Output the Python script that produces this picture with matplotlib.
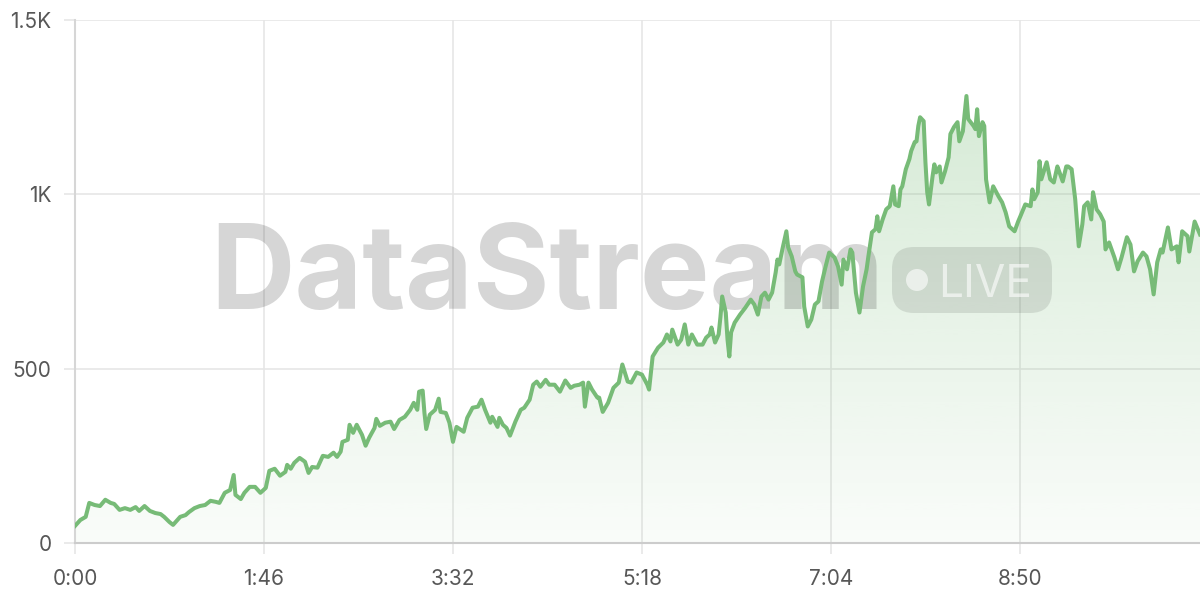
import matplotlib
matplotlib.use("Agg")
import matplotlib.pyplot as plt
from matplotlib.patches import FancyBboxPatch, Circle
from matplotlib.transforms import IdentityTransform
from matplotlib.ticker import FuncFormatter, FixedLocator
import numpy as np

plt.rcParams.update({
    "font.family": ["Inter", "DejaVu Sans"],
    "font.size": 15,
})

# elapsed seconds / stream value
seconds = [
    0, 3, 6, 8, 11, 14, 17, 20, 22, 25, 28, 31, 34, 36, 39, 42, 45, 48, 50, 53,
    55, 59, 62, 64, 67, 70, 73, 76, 79, 81, 84, 87, 89, 90, 93, 95, 98, 101, 104, 107,
    109, 112, 115, 118, 119, 121, 123, 126, 129, 131, 133, 136, 139, 142, 145, 147, 149, 150, 153, 154,
    156, 158, 161, 163, 165, 168, 169, 171, 174, 177, 179, 182, 185, 188, 190, 192, 193, 195, 196, 197,
    199, 202, 204, 205, 208, 210, 212,
    214, 218, 220, 223, 226, 228, 230, 233, 234, 237, 238, 240, 242, 244, 247, 250, 252, 255, 257, 259,
    261, 264, 266, 269, 272, 275, 278, 280, 283, 285, 286, 288, 290, 293, 294, 296, 299, 302, 305, 307,
    310, 312, 315, 318, 321, 322,
    324, 327, 330, 332, 334, 335, 338, 340, 342, 344, 346, 349, 352, 354, 356, 357, 359, 361, 362, 363,
    365, 366, 367, 368, 370, 373, 376, 379, 381, 383, 385, 387, 389, 391, 393, 394, 395, 397, 399, 400,
    402, 404, 405, 408, 409, 411, 413, 415, 417, 419, 421, 423,
    426, 428, 430, 431, 433, 435, 436, 438, 440, 442, 444, 445, 447, 449, 450, 451, 453, 455, 457, 459,
    460, 462, 463, 464, 466, 468, 469, 471, 472, 473, 474, 476, 477, 478, 479, 481, 482, 483, 485, 486,
    488, 490, 491, 493, 495, 496, 498, 500, 501, 504, 505, 506, 507, 509, 510, 511, 513, 515, 518, 520,
    522, 524, 527,
    529, 530, 533, 536, 537, 538, 540, 541, 542, 545, 547, 549, 551, 552, 554, 556, 557, 559, 561, 563,
    565, 566, 568, 570, 571, 573, 575, 577, 578, 580, 582, 583, 585, 587, 590, 592, 594, 596, 599, 601,
    603, 605, 607, 609, 610, 613, 615, 618, 619, 621, 624, 625, 628, 631,
]
values = [
    49, 66, 75, 115, 109, 106, 124, 115, 112, 95, 100, 95, 103, 92, 106, 92, 86, 83, 75, 60,
    52, 75, 80, 89, 100, 106, 109, 121, 118, 115, 144, 152, 195, 138, 126, 144, 161, 161, 144, 158,
    207, 213, 193, 204, 224, 213, 230, 244, 233, 201, 218, 216, 250, 247, 259, 247, 262, 290, 296, 339,
    316, 339, 310, 279, 302, 330, 356, 336, 345, 348, 327, 353, 362, 382, 402, 382, 434, 437, 373, 327,
    368, 382, 414, 376, 373, 345, 290,
    333, 319, 359, 388, 391, 411, 382, 345, 362, 333, 359, 339, 330, 308, 348, 382, 388, 411, 454, 463,
    448, 468, 454, 454, 434, 466, 445, 451, 454, 460, 391, 460, 440, 417, 417, 376, 402, 445, 460, 512,
    463, 460, 489, 483, 454, 440,
    535, 560, 575, 598, 578, 612, 569, 583, 627, 569, 598, 569, 569, 589, 598, 618, 575, 598, 647, 707,
    661, 583, 535, 604, 632, 655, 675, 698, 684, 655, 707, 718, 698, 718, 776, 813, 799, 848, 894, 848,
    822, 779, 770, 762, 678, 621, 641, 684, 693, 750, 793, 833,
    819, 793, 741, 813, 785, 842, 833, 718, 661, 736, 785, 822, 891, 900, 937, 894, 928, 957, 966, 1023,
    971, 966, 1014, 1023, 1072, 1101, 1124, 1150, 1152, 1196, 1221, 1210, 1092, 1006, 971, 1052, 1086, 1063, 1080, 1034,
    1066, 1106, 1173, 1193, 1207, 1152, 1181, 1282, 1216, 1196, 1187, 1244, 1167, 1207, 1196, 1043, 977, 1023, 994, 977,
    948, 908, 894,
    922, 934, 971, 966, 1014, 986, 1006, 1095, 1043, 1092, 1043, 1034, 1080, 1066, 1037, 1080, 1080, 1072, 986, 851,
    914, 966, 977, 928, 1006, 957, 943, 922, 842, 862, 833, 819, 785, 819, 877, 856, 779, 808, 833, 822,
    785, 713, 805, 842, 833, 905, 842, 851, 805, 894, 880, 836, 922, 885,
]
assert len(seconds) == len(values)

x_ticks = [0, 106, 212, 318, 424, 530]
y_ticks = [0, 500, 1000, 1500]
y_labels = ["0", "500", "1K", "1.5K"]

LINE = "#77bb77"
GRID = "#e6e6e6"
TEXT = "#575757"

fig = plt.figure(figsize=(12, 6), dpi=100)
ax = fig.add_axes([75 / 1200, 57 / 600, 1125 / 1200, 523 / 600])

x = np.array(seconds)
y = np.array(values)

# gradient fill under the line
poly = ax.fill_between(x, y, 0, facecolor="none", edgecolor="none")
grad = np.zeros((256, 1, 4))
grad[:, 0, :3] = matplotlib.colors.to_rgb(LINE)
grad[:, 0, 3] = np.linspace(0.04, 0.30, 256)
im = ax.imshow(grad, extent=[x.min(), x.max(), 0, y.max()], origin="lower",
               aspect="auto", zorder=1, interpolation="bilinear")
im.set_clip_path(poly.get_paths()[0], transform=ax.transData)

ax.plot(x, y, color=LINE, lw=2.9, solid_joinstyle="round", zorder=4)

ax.set_xlim(0, 631)
ax.set_ylim(0, 1500)

ax.xaxis.set_major_locator(FixedLocator(x_ticks))
ax.xaxis.set_major_formatter(FuncFormatter(lambda v, p: f"{int(v) // 60}:{int(v) % 60:02d}"))
ax.yaxis.set_major_locator(FixedLocator(y_ticks))
ax.set_yticklabels(y_labels)

ax.grid(True, color=GRID, lw=1.2, zorder=0)
ax.set_axisbelow(True)
ax.tick_params(axis="both", colors=GRID, labelcolor=TEXT, labelsize=15, width=1.2)
ax.tick_params(axis="y", length=8, pad=9)
ax.tick_params(axis="x", length=8, pad=11)
for s in ["top", "right"]:
    ax.spines[s].set_visible(False)
ax.spines["left"].set_color("#d6d6d6")
ax.spines["left"].set_linewidth(1.5)
ax.spines["bottom"].set_color("#cccccc")
ax.spines["bottom"].set_linewidth(1.5)

# watermark
ident = IdentityTransform()
fig.canvas.draw()
renderer = fig.canvas.get_renderer()

wm = ax.text(210, 600 - 309, "DataStream", transform=ident, fontsize=80,
             fontweight="bold", color="black", alpha=0.16, ha="left",
             va="baseline", zorder=2, clip_on=False)
w = wm.get_window_extent(renderer).width
wm.set_fontsize(80 * 675 / w)

pill = FancyBboxPatch((892, 600 - 313), 160, 66,
                      boxstyle="round,pad=0,rounding_size=22",
                      transform=ident, facecolor="black", alpha=0.10,
                      edgecolor="none", zorder=2, clip_on=False)
ax.add_patch(pill)
ax.add_patch(Circle((917, 600 - 280), 11, transform=ident, facecolor="white",
                    alpha=0.6, edgecolor="none", zorder=2, clip_on=False))
lv = ax.text(938, 600 - 297, "LIVE", transform=ident, fontsize=34,
             color="white", alpha=0.6, ha="left", va="baseline", zorder=2,
             clip_on=False)
w = lv.get_window_extent(renderer).width
lv.set_fontsize(34 * 94 / w)

fig.savefig("out.png", dpi=100)
